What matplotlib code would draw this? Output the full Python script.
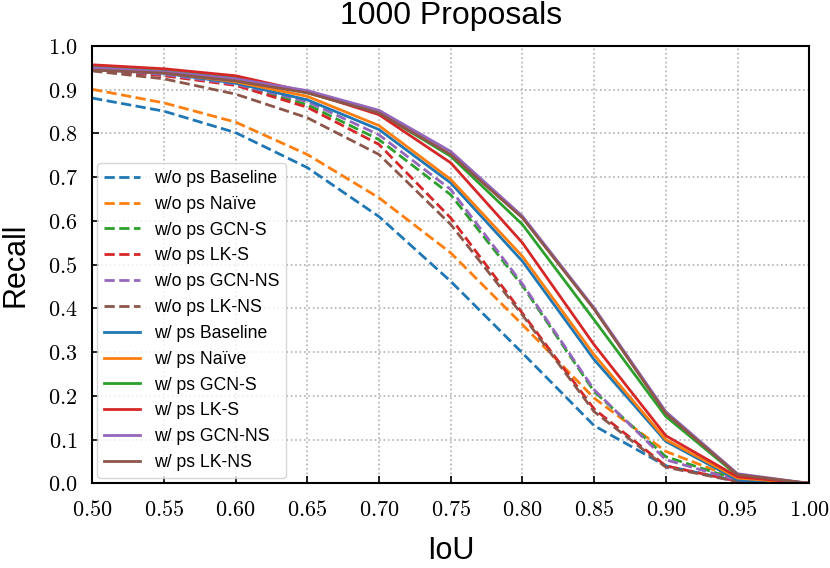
import matplotlib
matplotlib.use("Agg")
import matplotlib.pyplot as plt

plt.rcParams['font.family'] = ['Liberation Sans', 'DejaVu Sans']
plt.rcParams['mathtext.fontset'] = 'cm'

iou = [0.50, 0.55, 0.60, 0.65, 0.70, 0.75, 0.80, 0.85, 0.90, 0.95, 1.00]
xticks = [0.50, 0.55, 0.60, 0.65, 0.70, 0.75, 0.80, 0.85, 0.90, 0.95, 1.00]
yticks = [0.0, 0.1, 0.2, 0.3, 0.4, 0.5, 0.6, 0.7, 0.8, 0.9, 1.0]

wo_baseline = [0.881, 0.851, 0.802, 0.722, 0.610, 0.462, 0.298, 0.132, 0.040, 0.005, 0.0]
wo_naive    = [0.901, 0.870, 0.826, 0.752, 0.653, 0.527, 0.363, 0.195, 0.073, 0.010, 0.0]
wo_gcn_s    = [0.946, 0.934, 0.912, 0.866, 0.786, 0.660, 0.452, 0.210, 0.061, 0.008, 0.0]
wo_lk_s     = [0.946, 0.932, 0.910, 0.860, 0.775, 0.607, 0.389, 0.170, 0.040, 0.005, 0.0]
wo_gcn_ns   = [0.946, 0.935, 0.913, 0.873, 0.797, 0.672, 0.456, 0.214, 0.054, 0.007, 0.0]
wo_lk_ns    = [0.943, 0.925, 0.890, 0.836, 0.752, 0.592, 0.385, 0.164, 0.037, 0.004, 0.0]
w_baseline  = [0.950, 0.938, 0.915, 0.877, 0.809, 0.687, 0.508, 0.283, 0.096, 0.008, 0.0]
w_naive     = [0.949, 0.939, 0.918, 0.885, 0.818, 0.695, 0.519, 0.294, 0.100, 0.012, 0.0]
w_gcn_s     = [0.952, 0.943, 0.928, 0.893, 0.847, 0.748, 0.592, 0.374, 0.153, 0.018, 0.0]
w_lk_s      = [0.957, 0.948, 0.932, 0.895, 0.843, 0.733, 0.550, 0.317, 0.109, 0.015, 0.0]
w_gcn_ns    = [0.950, 0.941, 0.925, 0.898, 0.853, 0.759, 0.611, 0.401, 0.164, 0.022, 0.0]
w_lk_ns     = [0.945, 0.938, 0.920, 0.893, 0.847, 0.752, 0.607, 0.398, 0.160, 0.020, 0.0]

labels = ['w/o ps Baseline', 'w/o ps Naïve', 'w/o ps GCN-S', 'w/o ps LK-S',
          'w/o ps GCN-NS', 'w/o ps LK-NS',
          'w/ ps Baseline', 'w/ ps Naïve', 'w/ ps GCN-S', 'w/ ps LK-S',
          'w/ ps GCN-NS', 'w/ ps LK-NS']
series = [wo_baseline, wo_naive, wo_gcn_s, wo_lk_s, wo_gcn_ns, wo_lk_ns,
          w_baseline, w_naive, w_gcn_s, w_lk_s, w_gcn_ns, w_lk_ns]
colors = ['#1f77b4', '#ff7f0e', '#2ca02c', '#d62728', '#9467bd', '#8c564b']

fig = plt.figure(figsize=(8.3, 5.68), dpi=100)
ax = fig.add_axes([0.111, 0.149, 0.864, 0.770])

for i, (lab, ys) in enumerate(zip(labels, series)):
    ls = '--' if i < 6 else '-'
    ax.plot(iou, ys, ls, color=colors[i % 6], lw=2, label=lab)

ax.set_xlim(0.5, 1.0)
ax.set_ylim(0.0, 1.0)
ax.set_xticks(xticks)
ax.set_yticks(yticks)
ax.set_xticklabels([r'$%.2f$' % v for v in xticks])
ax.set_yticklabels([r'$%.1f$' % v for v in yticks])
ax.tick_params(direction='in', labelsize=16, width=1.2, length=5)
ax.tick_params(axis='x', pad=12)
ax.tick_params(axis='y', pad=10.5)
ax.grid(True, linestyle=':', color='#b0b0b0', linewidth=1.2)
for s in ax.spines.values():
    s.set_linewidth(1.5)

ax.set_title('1000 Proposals', fontsize=23, pad=16)
ax.set_xlabel('IoU', fontsize=22, labelpad=11)
ax.set_ylabel('Recall', fontsize=22, labelpad=12)

ax.legend(loc='lower left', fontsize=12.7, framealpha=0.8, borderaxespad=0.3)

fig.savefig('out.png', dpi=100)
